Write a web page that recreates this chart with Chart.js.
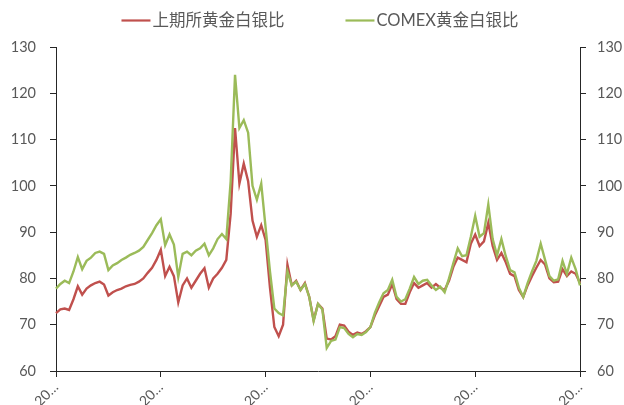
<!DOCTYPE html>
<html><head><meta charset="utf-8">
<script src="https://cdn.jsdelivr.net/npm/chart.js@4.4.0/dist/chart.umd.min.js"></script>
<style>html,body{margin:0;padding:0;background:#fff;} #wrap{width:624px;height:405px;}</style>
</head><body><div id="wrap"><canvas id="c" width="624" height="405"></canvas></div>
<script>
const seriesNames = ['上期所黄金白银比', 'COMEX黄金白银比'];
const shfeRatio = [
  72.5,73.3,73.5,73.2,75.5,78.3,76.5,77.8,78.5,79.0,
  79.3,78.7,76.3,77.0,77.5,77.8,78.3,78.6,78.8,79.3,
  80.0,81.2,82.3,84.0,86.2,80.5,82.5,80.5,74.8,78.5,
  80.0,78.0,79.5,81.0,82.2,78.0,80.0,81.0,82.3,84.0,
  94.0,112.5,100.5,104.8,101.0,92.5,89.0,91.5,88.3,78.0,
  69.5,67.5,70.0,83.0,78.5,79.5,77.5,79.0,76.0,71.0,
  74.5,73.5,67.0,66.8,67.5,70.0,69.8,68.5,67.8,68.3,
  68.0,68.6,69.5,72.0,74.0,76.0,76.5,78.8,75.5,74.5,
  74.5,77.0,79.0,78.0,78.5,79.0,78.0,78.8,78.0,77.5,
  79.5,82.5,84.5,84.0,83.5,87.5,89.5,87.0,88.0,92.0,
  87.0,84.0,85.5,83.5,81.0,80.5,77.5,76.0,78.5,80.5,
  82.3,84.0,83.0,80.0,79.2,79.3,82.0,80.5,81.5,81.0,
  79.0
];
const comexRatio = [
  77.8,78.8,79.5,79.0,81.5,84.6,82.0,83.8,84.5,85.5,
  85.8,85.3,81.8,82.8,83.3,84.0,84.5,85.1,85.5,86.0,
  86.8,88.3,89.8,91.5,92.8,87.2,89.5,87.3,80.3,85.3,
  85.8,85.0,86.0,86.5,87.5,85.0,86.5,88.5,89.6,88.5,
  101.0,124.0,112.5,114.2,111.5,100.0,97.0,100.5,91.0,81.5,
  73.5,72.5,72.0,81.5,78.5,79.3,77.5,78.8,76.0,70.8,
  74.5,73.3,65.0,66.5,66.8,69.5,69.3,68.0,67.3,68.0,
  67.8,68.4,69.5,72.5,74.8,76.8,77.5,79.7,76.0,75.0,
  75.5,77.8,80.3,78.8,79.5,79.7,78.5,77.5,78.2,77.0,
  80.0,83.3,86.5,84.8,85.0,89.0,93.5,89.0,89.8,96.0,
  88.5,85.0,88.5,84.8,81.8,81.3,78.0,76.0,79.0,81.5,
  83.8,87.5,84.0,80.5,79.5,79.8,83.8,81.0,84.5,82.0,
  78.5
];
const yMin = 60, yMax = 130, yStep = 10;
const xTickLabel = '20…';
const xTickEvery = 24;
const categories = shfeRatio.map((_, i) => i);

const FONT = 'Lato, "Noto Sans CJK SC", sans-serif';
const TEXT = '#595959';
const AXIS = '#262626';
const RED = '#C0504D';
const GREEN = '#9BBB59';

const lineLegend = {
  id: 'lineLegend',
  afterDraw(chart) {
    const ctx = chart.ctx;
    ctx.save();
    ctx.font = '16.5px ' + FONT;
    ctx.textBaseline = 'middle';
    const items = chart.data.datasets.map(d => ({text: d.label, color: d.borderColor}));
    const lineW = 29, gap = 2, itemGap = 61;
    const widths = items.map(it => lineW + gap + ctx.measureText(it.text).width);
    const total = widths.reduce((a, b) => a + b, 0) + itemGap * (items.length - 1);
    let x = (chart.chartArea.left + chart.chartArea.right) / 2 - total / 2 + 2;
    const y = 20.5;
    items.forEach((it, k) => {
      ctx.strokeStyle = it.color;
      ctx.lineWidth = 2.2;
      ctx.beginPath();
      ctx.moveTo(x, y);
      ctx.lineTo(x + lineW, y);
      ctx.stroke();
      ctx.fillStyle = TEXT;
      ctx.fillText(it.text, x + lineW + gap, y + 0.5);
      x += widths[k] + itemGap;
    });
    ctx.restore();
  }
};

const yAxisBase = (pos, w, pad) => ({
  type: 'linear',
  position: pos,
  min: yMin, max: yMax,
  ticks: {stepSize: yStep, color: TEXT, font: {family: FONT, size: 14.5}, padding: pad},
  grid: {drawOnChartArea: false, drawTicks: true, tickLength: 6, color: AXIS},
  border: {display: true, color: AXIS, width: 1},
  afterFit(s) { s.width = w; }
});

new Chart(document.getElementById('c'), {
  type: 'line',
  data: {
    labels: categories,
    datasets: [
      {label: seriesNames[0], data: shfeRatio, borderColor: RED, backgroundColor: RED,
       borderWidth: 2.4, pointRadius: 0, tension: 0, order: 2, yAxisID: 'y'},
      {label: seriesNames[1], data: comexRatio, borderColor: GREEN, backgroundColor: GREEN,
       borderWidth: 2.4, pointRadius: 0, tension: 0, order: 1, yAxisID: 'y'}
    ]
  },
  options: {
    responsive: false,
    animation: false,
    devicePixelRatio: 1,
    layout: {padding: {top: 47, left: 0, right: 0, bottom: 0}},
    plugins: {legend: {display: false}, tooltip: {enabled: false}},
    scales: {
      x: {
        type: 'category',
        offset: false,
        ticks: {
          autoSkip: false, maxRotation: 45, minRotation: 45, padding: 2,
          color: TEXT, font: {family: FONT, size: 14},
          callback: (v, i) => (i % xTickEvery === 0 ? xTickLabel : null)
        },
        grid: {drawOnChartArea: false, drawTicks: true, tickLength: 6, color: AXIS},
        border: {display: true, color: AXIS, width: 1},
        afterFit(s) { s.height = 34; }
      },
      y: yAxisBase('left', 56, 14),
      y2: yAxisBase('right', 44, 11)
    }
  },
  plugins: [lineLegend]
});
</script>
</body></html>
